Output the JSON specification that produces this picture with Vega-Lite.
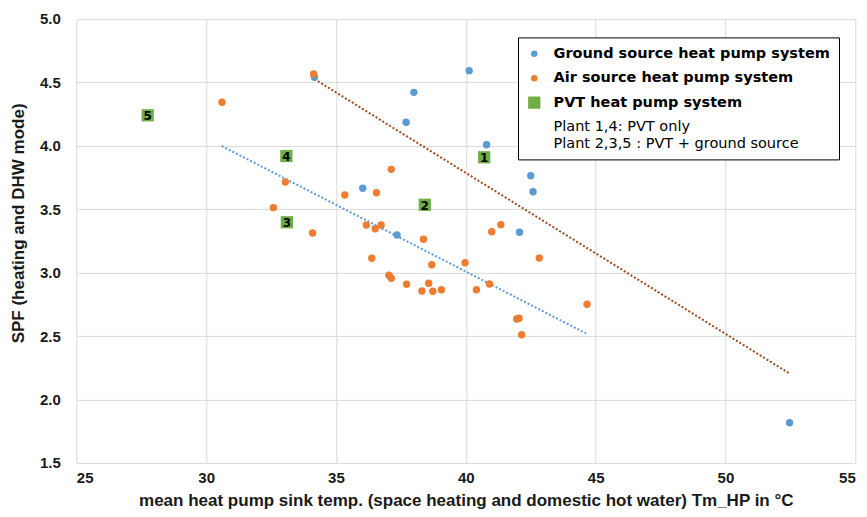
{
  "$schema": "https://vega.github.io/schema/vega-lite/v6.json",
  "width": 779,
  "height": 444,
  "autosize": {"type": "none"},
  "padding": {"left": 76.3, "top": 18.9, "right": 11.7, "bottom": 54.1},
  "background": "white",
  "config": {
    "view": {"stroke": null},
    "axis": {
      "gridColor": "#D9D9D9",
      "gridWidth": 1,
      "domain": false,
      "ticks": false,
      "labelFont": "Liberation Sans",
      "labelFontWeight": "bold",
      "labelFontSize": 15,
      "labelColor": "#1a1a1a",
      "titleFont": "Liberation Sans",
      "titleFontWeight": "bold",
      "titleFontSize": 17,
      "titleColor": "#1a1a1a"
    }
  },
  "datasets": {
    "pts": [
      {"series": "Ground source heat pump system", "temp": 34.17, "spf": 4.54},
      {"series": "Ground source heat pump system", "temp": 40.13, "spf": 4.592},
      {"series": "Ground source heat pump system", "temp": 38.0, "spf": 4.421},
      {"series": "Ground source heat pump system", "temp": 37.7, "spf": 4.185},
      {"series": "Ground source heat pump system", "temp": 40.8, "spf": 4.008},
      {"series": "Ground source heat pump system", "temp": 42.5, "spf": 3.764},
      {"series": "Ground source heat pump system", "temp": 42.59, "spf": 3.638},
      {"series": "Ground source heat pump system", "temp": 36.03, "spf": 3.665},
      {"series": "Ground source heat pump system", "temp": 37.35, "spf": 3.297},
      {"series": "Ground source heat pump system", "temp": 42.07, "spf": 3.318},
      {"series": "Ground source heat pump system", "temp": 52.47, "spf": 1.817},
      {"series": "Air source heat pump system", "temp": 34.14, "spf": 4.566},
      {"series": "Air source heat pump system", "temp": 30.61, "spf": 4.343},
      {"series": "Air source heat pump system", "temp": 33.05, "spf": 3.714},
      {"series": "Air source heat pump system", "temp": 37.13, "spf": 3.814},
      {"series": "Air source heat pump system", "temp": 35.34, "spf": 3.612},
      {"series": "Air source heat pump system", "temp": 36.56, "spf": 3.63},
      {"series": "Air source heat pump system", "temp": 32.59, "spf": 3.512},
      {"series": "Air source heat pump system", "temp": 36.17, "spf": 3.375},
      {"series": "Air source heat pump system", "temp": 36.51, "spf": 3.346},
      {"series": "Air source heat pump system", "temp": 36.74, "spf": 3.375},
      {"series": "Air source heat pump system", "temp": 34.1, "spf": 3.312},
      {"series": "Air source heat pump system", "temp": 41.0, "spf": 3.322},
      {"series": "Air source heat pump system", "temp": 41.35, "spf": 3.378},
      {"series": "Air source heat pump system", "temp": 38.37, "spf": 3.263},
      {"series": "Air source heat pump system", "temp": 36.38, "spf": 3.113},
      {"series": "Air source heat pump system", "temp": 38.69, "spf": 3.062},
      {"series": "Air source heat pump system", "temp": 39.97, "spf": 3.078},
      {"series": "Air source heat pump system", "temp": 42.83, "spf": 3.115},
      {"series": "Air source heat pump system", "temp": 37.04, "spf": 2.979},
      {"series": "Air source heat pump system", "temp": 37.13, "spf": 2.955},
      {"series": "Air source heat pump system", "temp": 37.72, "spf": 2.908},
      {"series": "Air source heat pump system", "temp": 38.57, "spf": 2.916},
      {"series": "Air source heat pump system", "temp": 38.31, "spf": 2.855},
      {"series": "Air source heat pump system", "temp": 38.73, "spf": 2.853},
      {"series": "Air source heat pump system", "temp": 39.06, "spf": 2.865},
      {"series": "Air source heat pump system", "temp": 40.41, "spf": 2.865},
      {"series": "Air source heat pump system", "temp": 40.91, "spf": 2.91},
      {"series": "Air source heat pump system", "temp": 44.67, "spf": 2.75},
      {"series": "Air source heat pump system", "temp": 41.96, "spf": 2.634},
      {"series": "Air source heat pump system", "temp": 42.05, "spf": 2.64},
      {"series": "Air source heat pump system", "temp": 42.15, "spf": 2.51},
      {"series": "PVT heat pump system", "temp": 40.71, "spf": 3.909, "label": "1"},
      {"series": "PVT heat pump system", "temp": 38.42, "spf": 3.535, "label": "2"},
      {"series": "PVT heat pump system", "temp": 33.11, "spf": 3.397, "label": "3"},
      {"series": "PVT heat pump system", "temp": 33.09, "spf": 3.919, "label": "4"},
      {"series": "PVT heat pump system", "temp": 27.75, "spf": 4.24, "label": "5"}
    ],
    "airTrend": [
      {"temp": 30.6, "spf": 3.998},
      {"temp": 44.63, "spf": 2.521}
    ],
    "groundTrend": [
      {"temp": 34.17, "spf": 4.526},
      {"temp": 52.48, "spf": 2.203}
    ]
  },
  "encoding": {
    "x": {
      "field": "temp",
      "type": "quantitative",
      "scale": {"domain": [25, 55], "nice": false, "zero": false},
      "axis": {
        "values": [25, 30, 35, 40, 45, 50, 55],
        "labelPadding": 8,
        "title": "mean heat pump sink temp. (space heating and domestic hot water) Tm_HP in °C",
        "titleY": 38,
        "titleBaseline": "middle"
      }
    },
    "y": {
      "field": "spf",
      "type": "quantitative",
      "scale": {"domain": [1.5, 5], "nice": false, "zero": false},
      "axis": {
        "values": [1.5, 2, 2.5, 3, 3.5, 4, 4.5, 5],
        "format": ".1f",
        "labelPadding": 16,
        "title": "SPF (heating and DHW mode)",
        "titleX": -58,
        "titleY": 204,
        "titleBaseline": "middle",
        "titleAlign": "center",
        "titleAngle": -90
      }
    }
  },
  "layer": [
    {
      "data": {"name": "airTrend"},
      "mark": {"type": "line", "color": "#5B9BD5", "strokeWidth": 2, "strokeDash": [2, 2]}
    },
    {
      "data": {"name": "groundTrend"},
      "mark": {"type": "line", "color": "#9A4A1F", "strokeWidth": 2, "strokeDash": [2, 2]}
    },
    {
      "data": {"name": "pts"},
      "mark": {"type": "point", "filled": true, "opacity": 1, "strokeWidth": 0},
      "encoding": {
        "color": {
          "field": "series",
          "type": "nominal",
          "scale": {
            "domain": ["Ground source heat pump system", "Air source heat pump system", "PVT heat pump system", "notes"],
            "range": ["#5B9BD5", "#ED7D31", "#70AD47", "transparent"]
          },
          "legend": {
            "title": null,
            "orient": "none",
            "legendX": 441.7,
            "legendY": 18.5,
            "strokeColor": "black",
            "fillColor": "white",
            "padding": 9,
            "rowPadding": 9.5,
            "labelOffset": 12,
            "labelFont": "DejaVu Sans",
            "labelFontSize": 14.5,
            "labelFontWeight": {"expr": "datum.value === 'notes' ? 'normal' : 'bold'"},
            "symbolSize": {"expr": "datum.value === 'PVT heat pump system' ? 150 : 42"},
            "labelColor": "black",
            "labelLimit": 400,
            "labelExpr": "datum.value === 'notes' ? ['Plant 1,4: PVT only', 'Plant 2,3,5 : PVT + ground source'] : datum.label"
          }
        },
        "shape": {
          "field": "series",
          "type": "nominal",
          "scale": {
            "domain": ["Ground source heat pump system", "Air source heat pump system", "PVT heat pump system", "notes"],
            "range": ["circle", "circle", "square", "circle"]
          },
          "legend": null
        },
        "size": {
          "condition": {"test": "datum.series === 'PVT heat pump system'", "value": 150},
          "value": 55
        }
      }
    },
    {
      "data": {"name": "pts"},
      "transform": [{"filter": "datum.label"}],
      "mark": {"type": "text", "font": "DejaVu Sans", "fontWeight": "bold", "fontSize": 12, "color": "black", "baseline": "middle", "align": "center", "dy": 1},
      "encoding": {
        "text": {"field": "label", "type": "nominal"}
      }
    }
  ]
}
